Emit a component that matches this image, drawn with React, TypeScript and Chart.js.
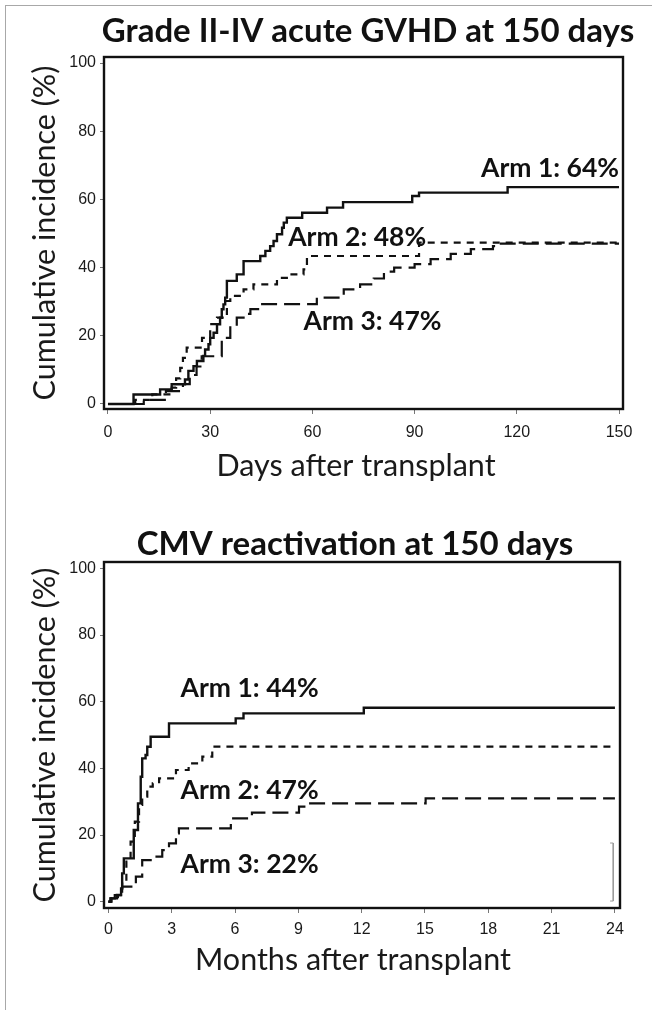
import React, { useEffect, useRef } from 'react';
import { Chart, registerables } from 'chart.js';
Chart.register(...registerables);

// ---------- Data: Grade II-IV acute GVHD (days) ----------
const gvhdXTicks = [0, 30, 60, 90, 120, 150];
const yTicks = [0, 20, 40, 60, 80, 100];

const gvhdArm1Days = [0, 7.5, 15.3, 18.7, 22.6, 23.6, 25.1, 26.1, 28, 28.5, 29.5, 30, 31, 32, 32.9, 33.4, 33.9, 34.4, 34.9, 37.8, 39.8, 44.7, 46.2, 47.6, 48.6, 49.6, 51.1, 51.6, 52.5, 57, 64.3, 69, 89.3, 91.3, 117.3, 150];
const gvhdArm1Vals = [0, 2.8, 4.3, 5.8, 7.2, 9.7, 11.1, 12.6, 14.1, 16, 17.5, 19.4, 20.9, 23.4, 25.3, 27.8, 29.2, 31.2, 36.1, 38, 41.9, 43.4, 44.9, 46.3, 47.8, 49.8, 51.7, 53.2, 54.6, 56.1, 57.6, 59.2, 61, 62, 63.6, 63.6];

const gvhdArm2Days = [0, 8, 13, 18.7, 20, 21.2, 22, 23.1, 27.6, 30, 32, 34.9, 35.9, 39.8, 42.7, 49.6, 52.5, 57.4, 58.4, 91.3, 150];
const gvhdArm2Vals = [0, 1.2, 2.8, 4.8, 7.5, 10.6, 13.5, 16.5, 19.4, 23.4, 25.3, 30.2, 31.7, 33.6, 35.1, 37, 38, 39.5, 43.4, 47.3, 47.3];

const gvhdArm3Days = [0, 10.5, 17, 22, 24, 26, 27.5, 33.4, 35.9, 37.8, 39.8, 41.8, 44.7, 61.3, 69.2, 74, 78, 81, 84, 90, 94.7, 100.6, 106.5, 113, 114, 150];
const gvhdArm3Vals = [0, 1.2, 3.8, 5.8, 8.5, 11, 14, 19.4, 22.9, 25.3, 26.4, 27.8, 29.3, 31.2, 33.6, 35.1, 36.8, 38.8, 40, 41, 42.5, 44, 45.4, 46.3, 47, 47];

const gvhdLabelText = ['Arm 1: 64%', 'Arm 2: 48%', 'Arm 3: 47%'];
const gvhdLabelX = [150, 52.9, 57.4];
const gvhdLabelY = [69, 48.7, 24.3];
const gvhdLabelAlign = ['right', 'left', 'left'];

// ---------- Data: CMV reactivation (months) ----------
const cmvXTicks = [0, 3, 6, 9, 12, 15, 18, 21, 24];

const cmvArm1Months = [0, 0.1, 0.4, 0.6, 0.65, 0.73, 1.2, 1.4, 1.53, 1.6, 1.76, 1.84, 2.0, 2.87, 6.03, 6.4, 12.1, 24];
const cmvArm1Vals = [0, 1, 2, 4, 8.5, 13, 21.5, 29.5, 37.5, 43, 44, 46.5, 49.5, 53.5, 55, 56.5, 58.2, 58.2];

const cmvArm2Months = [0, 0.15, 0.45, 0.65, 0.85, 1.05, 1.25, 1.45, 1.6, 1.84, 2.1, 2.4, 3.2, 3.8, 4.45, 4.92, 24];
const cmvArm2Vals = [0, 1, 2, 6, 12, 18, 24, 29, 31.5, 34.5, 35.5, 37, 39.5, 41.5, 43.5, 46.5, 46.5];

const cmvArm3Months = [0, 0.1, 0.3, 0.6, 0.65, 1.3, 1.6, 2.1, 2.55, 2.87, 3.2, 3.34, 5.8, 6.8, 9.03, 9.4, 15.03, 24];
const cmvArm3Vals = [0, 1, 2, 3, 4.5, 7.5, 12.5, 13.5, 15.5, 17.5, 20.5, 22, 25, 26.7, 28.5, 29.5, 31, 31];

const cmvBracketMonths = [23.77, 23.92, 23.92, 23.77];
const cmvBracketVals = [17.6, 17.6, 0.2, 0.2];

const cmvLabelText = ['Arm 1: 44%', 'Arm 2: 47%', 'Arm 3: 22%'];
const cmvLabelX = [3.42, 3.42, 3.42];
const cmvLabelY = [64.1, 33.5, 11.3];
const cmvLabelAlign = ['left', 'left', 'left'];

// ---------- helpers ----------
const pts = (xs: number[], ys: number[]) => xs.map((x, i) => ({ x, y: ys[i] }));

const SANS = "Lato, 'Open Sans', sans-serif";
const TICKFONT = "'Liberation Sans', Arial, sans-serif";
const INK = '#111111';

const frameTextPlugin = {
  id: 'frameText',
  afterDatasetsDraw(chart: any, _args: any, opts: any) {
    const { ctx, chartArea: a, scales } = chart;
    ctx.save();
    ctx.strokeStyle = INK;
    ctx.lineWidth = 2.4;
    ctx.strokeRect(a.left, a.top, a.right - a.left, a.bottom - a.top);
    ctx.textBaseline = 'middle';
    ctx.textAlign = 'center';
    // chart title
    ctx.fillStyle = INK;
    ctx.font = `bold 33px ${SANS}`;
    ctx.fillText(opts.title, opts.titleX, opts.titleY);
    // x-axis title
    ctx.fillStyle = '#1a1a1a';
    ctx.font = `30.5px ${SANS}`;
    ctx.fillText(opts.xTitle, opts.xTitleX, opts.xTitleY);
    // arm labels (anchored in data coordinates)
    ctx.fillStyle = INK;
    ctx.font = `bold ${opts.labelSize}px ${SANS}`;
    (opts.texts as string[]).forEach((t, i) => {
      ctx.textAlign = opts.aligns[i];
      ctx.fillText(t, scales.x.getPixelForValue(opts.xs[i]), scales.y.getPixelForValue(opts.ys[i]));
    });
    ctx.restore();
  },
};

function lineDs(label: string, data: any[], dash: number[], width: number, color = INK, stepped: any = true) {
  return {
    label,
    data,
    borderColor: color,
    borderWidth: width,
    borderDash: dash,
    stepped,
    pointRadius: 0,
    fill: false,
    tension: 0,
  };
}

interface Spec {
  xMin: number;
  xMax: number;
  xTicks: number[];
  yMin: number;
  yMax: number;
  datasets: any[];
  padRight: number;
  padBottom: number;
  xHeight: number;
  xTickPad: number;
  labels: any;
}

function buildConfig(s: Spec): any {
  return {
    type: 'line',
    data: { datasets: s.datasets },
    plugins: [frameTextPlugin],
    options: {
      responsive: false,
      animation: false,
      devicePixelRatio: 1,
      parsing: true,
      layout: { padding: { left: 0, right: s.padRight, top: 57, bottom: s.padBottom } },
      plugins: {
        legend: { display: false },
        tooltip: { enabled: false },
        title: { display: false },
        frameText: s.labels,
      },
      scales: {
        x: {
          type: 'linear',
          min: s.xMin,
          max: s.xMax,
          afterBuildTicks: (sc: any) => { sc.ticks = s.xTicks.map((v) => ({ value: v })); },
          afterFit: (sc: any) => { sc.height = s.xHeight; },
          grid: { display: true, drawOnChartArea: false, drawTicks: true, tickLength: 5, color: '#777', lineWidth: 1 },
          border: { display: false },
          ticks: { color: '#1a1a1a', font: { family: TICKFONT, size: 16 }, padding: s.xTickPad, maxRotation: 0, autoSkip: false },
          title: { display: false },
        },
        y: {
          type: 'linear',
          min: s.yMin,
          max: s.yMax,
          afterBuildTicks: (sc: any) => { sc.ticks = yTicks.map((v) => ({ value: v })); },
          afterFit: (sc: any) => { sc.width = 104; },
          grid: { display: true, drawOnChartArea: false, drawTicks: true, tickLength: 4, color: '#777', lineWidth: 1 },
          border: { display: false },
          ticks: { color: '#1a1a1a', font: { family: TICKFONT, size: 16 }, padding: 4, autoSkip: false },
          title: {
            display: true,
            text: 'Cumulative incidence (%)',
            color: '#1a1a1a',
            font: { family: SANS, size: 30.5, lineHeight: 1.2 },
            padding: { top: 26.7, bottom: 0 },
          },
        },
      },
    },
  };
}

const gvhdSpec: Spec = {
  xMin: -1.17,
  xMax: 151.17,
  xTicks: gvhdXTicks,
  yMin: -1.47,
  yMax: 101.76,
  padRight: 29,
  padBottom: 16,
  xHeight: 75,
  xTickPad: 9,
  datasets: [
    lineDs('Arm 1', pts(gvhdArm1Days, gvhdArm1Vals), [], 2.4),
    lineDs('Arm 2', pts(gvhdArm2Days, gvhdArm2Vals), [7, 6], 2.2),
    lineDs('Arm 3', pts(gvhdArm3Days, gvhdArm3Vals), [16, 7], 2.2),
  ],
  labels: {
    title: 'Grade II-IV acute GVHD at 150 days', titleX: 368, titleY: 31,
    xTitle: 'Days after transplant', xTitleX: 356, xTitleY: 466,
    texts: gvhdLabelText, xs: gvhdLabelX, ys: gvhdLabelY, aligns: gvhdLabelAlign, labelSize: 26.5,
  },
};

const cmvSpec: Spec = {
  xMin: -0.21,
  xMax: 24.24,
  xTicks: cmvXTicks,
  yMin: -1.89,
  yMax: 101.9,
  padRight: 32,
  padBottom: 32,
  xHeight: 70,
  xTickPad: 7,
  datasets: [
    lineDs('Arm 1', pts(cmvArm1Months, cmvArm1Vals), [], 2.4),
    lineDs('Arm 2', pts(cmvArm2Months, cmvArm2Vals), [7, 6], 2.2),
    lineDs('Arm 3', pts(cmvArm3Months, cmvArm3Vals), [16, 7], 2.2),
    lineDs('censor', pts(cmvBracketMonths, cmvBracketVals), [], 1, '#9a9a9a', false),
  ],
  labels: {
    title: 'CMV reactivation at 150 days', titleX: 355, titleY: 39,
    xTitle: 'Months after transplant', xTitleX: 353, xTitleY: 455,
    texts: cmvLabelText, xs: cmvLabelX, ys: cmvLabelY, aligns: cmvLabelAlign, labelSize: 26.5,
  },
};

function KMChart({ spec, top, height }: { spec: Spec; top: number; height: number }) {
  const ref = useRef<HTMLCanvasElement>(null);
  useEffect(() => {
    const chart = new Chart(ref.current as HTMLCanvasElement, buildConfig(spec));
    return () => chart.destroy();
  }, [spec]);
  return (
    <canvas
      ref={ref}
      width={652}
      height={height}
      style={{ position: 'absolute', left: 0, top, width: 652, height, display: 'block' }}
    />
  );
}

export default function App() {
  return (
    <div style={{ position: 'absolute', left: 0, top: 0, width: 652, height: 1010, overflow: 'hidden', background: '#fff' }}>
      <div
        style={{
          position: 'absolute',
          left: 5,
          top: 5,
          width: 660,
          height: 1020,
          borderLeft: '1px solid #a8a8a8',
          borderTop: '1px solid #a8a8a8',
        }}
      />
      <KMChart spec={gvhdSpec} top={0} height={500} />
      <KMChart spec={cmvSpec} top={505} height={505} />
    </div>
  );
}
